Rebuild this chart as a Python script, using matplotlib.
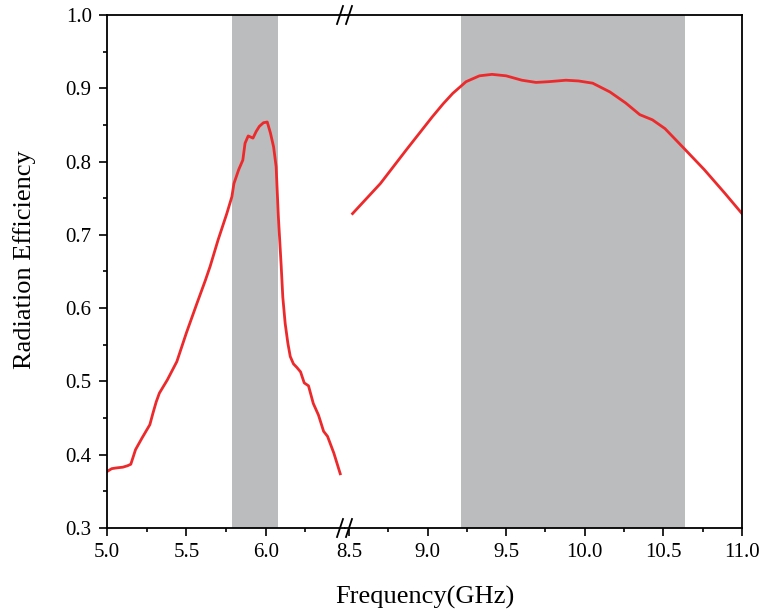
import numpy as np
import matplotlib
matplotlib.use('Agg')
import matplotlib.pyplot as plt
from matplotlib.ticker import MultipleLocator, FormatStrFormatter

plt.rcParams['font.family'] = ['Liberation Serif', 'DejaVu Serif']

# low band curve (GHz, efficiency)
f_low = [5.00, 5.03, 5.06, 5.10, 5.13, 5.15, 5.165, 5.18, 5.22, 5.27, 5.29, 5.31,
         5.33, 5.38, 5.44, 5.50, 5.566, 5.62, 5.65, 5.70, 5.755, 5.787, 5.80,
         5.83, 5.856, 5.87, 5.89, 5.92, 5.94, 5.96, 5.986, 6.01, 6.03, 6.05,
         6.066, 6.08, 6.098, 6.108, 6.123, 6.14, 6.155, 6.175, 6.197, 6.22,
         6.243, 6.27, 6.30, 6.333, 6.365, 6.39, 6.43, 6.47]
eff_low = [0.377, 0.381, 0.382, 0.383, 0.385, 0.387, 0.397, 0.407, 0.4225, 0.441,
           0.457, 0.472, 0.484, 0.502, 0.527, 0.566, 0.606, 0.638, 0.657, 0.693,
           0.729, 0.752, 0.770, 0.789, 0.802, 0.825, 0.835, 0.832, 0.841, 0.848,
           0.853, 0.854, 0.839, 0.820, 0.793, 0.725, 0.657, 0.615, 0.579, 0.552,
           0.534, 0.524, 0.519, 0.513, 0.498, 0.494, 0.470, 0.454, 0.432, 0.425,
           0.402, 0.374]

# high band curve
f_high = [8.523, 8.70, 8.865, 9.03, 9.10, 9.16, 9.245, 9.33, 9.41, 9.50, 9.60,
          9.69, 9.77, 9.88, 9.96, 10.05, 10.16, 10.26, 10.35, 10.43, 10.51,
          10.64, 10.76, 10.89, 11.0]
eff_high = [0.729, 0.770, 0.816, 0.861, 0.879, 0.893, 0.909, 0.917, 0.919, 0.917,
            0.911, 0.908, 0.909, 0.911, 0.910, 0.907, 0.895, 0.880, 0.864, 0.857,
            0.845, 0.816, 0.789, 0.757, 0.729]

band_low = (5.79, 6.08)
band_high = (9.215, 10.64)

W, H = 764, 615
fig = plt.figure(figsize=(W / 100, H / 100), dpi=100)
x0, x_split, x1 = 107, 345, 742
y_top, y_bot = 15, 528
b = 1 - y_bot / H
h = (y_bot - y_top) / H
ax1 = fig.add_axes([x0 / W, b, (x_split - x0) / W, h])
ax2 = fig.add_axes([x_split / W, b, (x1 - x_split) / W, h])

red = '#ec2a2c'
grey = '#bbbcbe'
for ax, f, e, band, lim in [(ax1, f_low, eff_low, band_low, (5.0, 6.5)),
                            (ax2, f_high, eff_high, band_high, (8.475, 11.0))]:
    ax.axvspan(*band, color=grey, lw=0)
    ax.plot(f, e, color=red, lw=2)
    ax.set_xlim(*lim)
    ax.set_ylim(0.3, 1.0)
    ax.xaxis.set_major_locator(MultipleLocator(0.5))
    ax.xaxis.set_minor_locator(MultipleLocator(0.25))
    ax.yaxis.set_major_locator(MultipleLocator(0.1))
    ax.yaxis.set_minor_locator(MultipleLocator(0.05))
    ax.xaxis.set_major_formatter(FormatStrFormatter('%.1f'))
    ax.yaxis.set_major_formatter(FormatStrFormatter('%.1f'))
    ax.tick_params(which='both', direction='out', top=False, right=False,
                   labelsize=15, width=1.2, color='black')
    ax.tick_params(which='major', length=6, pad=5)
    ax.tick_params(which='minor', length=3)
    for s in ax.spines.values():
        s.set_linewidth(1.3)

ax1.spines['right'].set_visible(False)
ax2.spines['left'].set_visible(False)
ax2.tick_params(which='both', left=False, labelleft=False)
ax1.set_xticks([5.0, 5.5, 6.0])
ax1.set_xticks([5.25, 5.75, 6.25], minor=True)
fig.text(25 / W, 1 - 260 / H, 'Radiation Efficiency', fontsize=19,
         rotation=90, ha='center', va='center')
fig.text((x0 + x1) / 2 / W, 1 - 597 / H, 'Frequency(GHz)', fontsize=19,
         ha='center', va='center')

# break marks
for ypx in (y_bot, y_top):
    for dx in (-5, 4):
        xa = (x_split + dx) / W
        ya = 1 - ypx / H
        fig.add_artist(plt.Line2D([xa - 3 / W, xa + 3 / W], [ya - 9 / H, ya + 9 / H],
                                  color='black', lw=1.3))

fig.savefig('out.png', dpi=100)
